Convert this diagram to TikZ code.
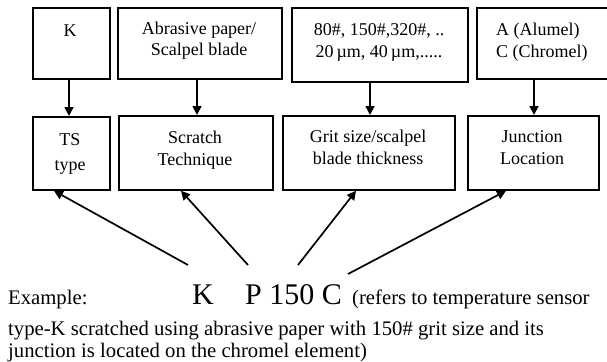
\documentclass[tikz,border=0pt]{standalone}
\usepackage{fontspec}
\setmainfont{Liberation Serif}
\usetikzlibrary{arrows.meta}
\begin{document}
\begin{tikzpicture}[x=1pt,y=-1pt,
  boxst/.style={draw, line width=1.8pt, inner sep=0pt, anchor=north west},
  lbl/.style={anchor=base, inner sep=0pt, font=\fontsize{18}{21}\selectfont},
  lblw/.style={anchor=base west, inner sep=0pt, font=\fontsize{18}{21}\selectfont},
  txt/.style={anchor=base west, inner sep=0pt, font=\fontsize{20.7}{21}\selectfont},
  big/.style={anchor=base west, inner sep=0pt, font=\fontsize{30}{30}\selectfont},
  arr/.style={line width=1.7pt, -{Triangle[length=9pt,width=9pt]}}
]
\useasboundingbox (0,0) rectangle (607,361);
% top boxes
\node[boxst, minimum width=77pt, minimum height=71pt] (t1) at (32,7) {};
\node[boxst, minimum width=164pt, minimum height=71pt] (t2) at (117,7) {};
\node[boxst, minimum width=176pt, minimum height=74pt] (t3) at (291,7) {};
\node[boxst, minimum width=131pt, minimum height=71pt] (t4) at (476,7) {};
% bottom boxes
\node[boxst, minimum width=77pt, minimum height=73pt] (b1) at (32,116) {};
\node[boxst, minimum width=154pt, minimum height=74pt] (b2) at (118,115) {};
\node[boxst, minimum width=172pt, minimum height=74pt] (b3) at (282,115) {};
\node[boxst, minimum width=131pt, minimum height=74pt] (b4) at (467,115) {};
% top texts
\node[lbl] (t1a) at (70,37) {K};
\node[lbl] (t2a) at (199,35) {Abrasive paper/};
\node[lbl] (t2b) at (199,56) {Scalpel blade};
\node[lbl] (t3a) at (379,36) {80\#, 150\#,320\#, ..};
\node[lbl] (t3b) at (379,57) {20\,µm, 40\,µm,.....};
\node[lblw] (t4a) at (496,36) {A (Alumel)};
\node[lblw] (t4b) at (496,57) {C (Chromel)};
% bottom texts
\node[lbl] (b1a) at (70,145) {TS};
\node[lbl] (b1b) at (70,170) {type};
\node[lbl] (b2a) at (195,143) {Scratch};
\node[lbl] (b2b) at (195,165) {Technique};
\node[lbl] (b3a) at (368,142) {Grit size/scalpel};
\node[lbl] (b3b) at (368,164) {blade thickness};
\node[lbl] (b4a) at (532,142) {Junction};
\node[lbl] (b4b) at (532,164) {Location};
% vertical arrows
\draw[arr] (69,0 |- t1.south) -- (69,0 |- b1.north);
\draw[arr] (197,0 |- t2.south) -- (197,0 |- b2.north);
\draw[arr] (370,0 |- t3.south) -- (370,0 |- b3.north);
\draw[arr] (534,0 |- t4.south) -- (534,0 |- b4.north);
% example text
\node[txt] (ex) at (8,304) {Example:};
\node[big] (kk) at (192,304) {K};
\node[big] (pp) at (245,304) {P 150 C};
\node[txt] (ref) at (352,304) {(refers to temperature sensor};
\node[txt] (l2) at (8,335) {type-K scratched using abrasive paper with 150\# grit size and its};
\node[txt] (l3) at (8,357) {junction is located on the chromel element)};
% diagonal arrows
\coordinate (s1) at (188,265);
\coordinate (s2) at (248,265);
\coordinate (s3) at (298,265);
\coordinate (s4) at (348,274);
\draw[arr] (s1) -- (54,0 |- b1.south);
\draw[arr] (s2) -- (181,0 |- b2.south);
\draw[arr] (s3) -- (356,0 |- b3.south);
\draw[arr] (s4) -- (506,0 |- b4.south);
\end{tikzpicture}
\end{document}
